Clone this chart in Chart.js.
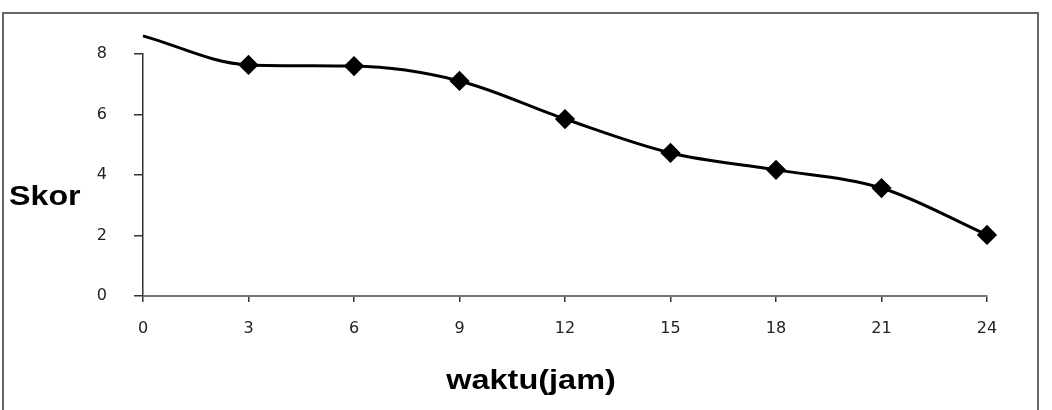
<!DOCTYPE html>
<html>
<head>
<meta charset="utf-8">
<script src="https://cdn.jsdelivr.net/npm/chart.js@4"></script>
<style>
  html, body { margin: 0; padding: 0; background: #fff; }
  #wrap { position: relative; width: 1052px; height: 410px; }
  #frame { position: absolute; left: 2px; top: 12px; width: 1037px; height: 400px; border: 2px solid #666; box-sizing: border-box; }
  canvas { position: absolute; left: 0; top: 0; }
</style>
</head>
<body>
<div id="wrap">
  <div id="frame"></div>
  <canvas id="chart" width="1052" height="410"></canvas>
</div>
<script>
const hours = [ 0, 3, 6, 9, 12, 15, 18, 21, 24 ]
const scores = [ 8.6, 7.64, 7.6, 7.11, 5.85, 4.73, 4.17, 3.57, 2.02 ]
const markerSize = [ 0, 8, 8, 8, 8, 8, 8, 8, 8 ]
const xTitle = 'waktu(jam)'
const yTitle = 'Skor'

const FONT = '"Liberation Sans", Arial, sans-serif'
const TICK_FONT = '"DejaVu Sans", sans-serif'

// the axis titles in the source are bold Arial, a bit wider than normal
const titles = {
  id: 'titles',
  afterDraw( chart ) {
    const { ctx } = chart
    ctx.save( )
    ctx.fillStyle = '#000'
    ctx.font = 'bold 28px ' + FONT
    ctx.textBaseline = 'middle'

    ctx.save( )
    ctx.translate( 9, 197 )
    ctx.scale( 1.15, 1 )
    ctx.textAlign = 'left'
    ctx.fillText( yTitle, 0, 0 )
    ctx.restore( )

    ctx.save( )
    ctx.translate( 531, 381 )
    ctx.scale( 1.16, 1 )
    ctx.textAlign = 'center'
    ctx.fillText( xTitle, 0, 0 )
    ctx.restore( )

    ctx.restore( )
  }
}

new Chart( document.getElementById( 'chart' ), {
  type: 'line',
  data: {
    datasets: [ {
      data: hours.map( ( h, i ) => ( { x: h, y: scores[ i ] } ) ),
      borderColor: '#000',
      borderWidth: 3,
      backgroundColor: '#000',
      pointStyle: 'rectRot',
      pointRadius: markerSize,
      pointBackgroundColor: '#000',
      pointBorderColor: '#000',
      cubicInterpolationMode: 'monotone',
      clip: false,
      fill: false
    } ]
  },
  options: {
    responsive: false,
    animation: false,
    events: [ ],
    layout: { padding: { left: 0, right: 65, top: 54, bottom: 0 } },
    plugins: { legend: { display: false }, tooltip: { enabled: false } },
    scales: {
      x: {
        type: 'linear',
        min: 0,
        max: 24,
        afterFit: ( s ) => { s.height = 114 },
        ticks: { stepSize: 3, color: '#222', font: { family: TICK_FONT, size: 16 }, padding: 17 },
        grid: { drawOnChartArea: false, drawTicks: true, tickLength: 6, color: '#333', lineWidth: 1.5 },
        border: { display: true, color: '#777', width: 2 }
      },
      y: {
        min: 0,
        max: 8,
        afterFit: ( s ) => { s.width = 143 },
        ticks: { stepSize: 2, color: '#222', font: { family: TICK_FONT, size: 16 }, padding: 27 },
        grid: { drawOnChartArea: false, drawTicks: true, tickLength: 9, color: '#333', lineWidth: 1.5 },
        border: { display: true, color: '#333', width: 1.5 }
      }
    }
  },
  plugins: [ titles ]
} )
</script>
</body>
</html>
